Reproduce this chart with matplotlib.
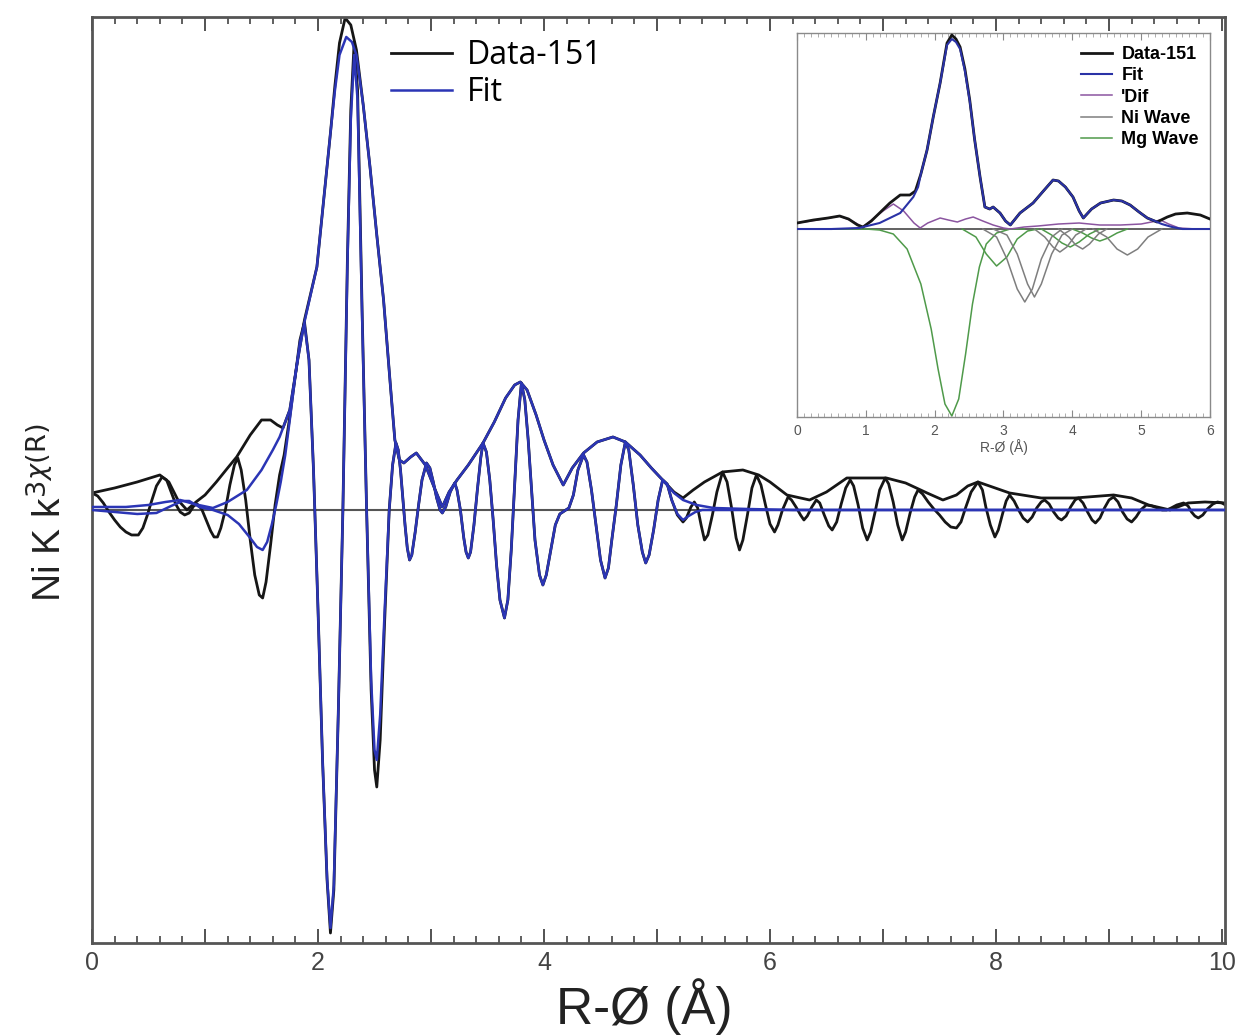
import matplotlib
matplotlib.use('Agg')
import matplotlib.pyplot as plt
from matplotlib.ticker import MultipleLocator, FuncFormatter

plt.rcParams['font.family'] = ['Liberation Sans', 'DejaVu Sans']

# ---- main panel (values are in picture units, zero = baseline) ----
r_data_re = [0.00, 0.05, 0.10, 0.15, 0.20, 0.25, 0.30, 0.35, 0.41, 0.45, 0.49, 0.53, 0.57, 0.62,
             0.66, 0.70, 0.74, 0.78, 0.82, 0.86, 0.90, 0.93, 0.97, 1.01, 1.05, 1.08, 1.11, 1.14,
             1.18, 1.22, 1.26, 1.29, 1.32, 1.36, 1.40, 1.44, 1.48, 1.51, 1.54, 1.58, 1.62, 1.66,
             1.70, 1.75, 1.80, 1.84, 1.88, 1.92, 1.96, 2.00, 2.04, 2.08, 2.11, 2.14, 2.18, 2.22,
             2.26, 2.29, 2.32, 2.35, 2.39, 2.43, 2.47, 2.50, 2.52, 2.55, 2.59, 2.63, 2.66, 2.69,
             2.71, 2.73, 2.75, 2.77, 2.79, 2.81, 2.83, 2.86, 2.89, 2.92, 2.96, 2.99, 3.02, 3.05,
             3.08, 3.10, 3.13, 3.17, 3.21, 3.23, 3.26, 3.29, 3.31, 3.33, 3.35, 3.38, 3.41, 3.44,
             3.46, 3.49, 3.52, 3.55, 3.58, 3.61, 3.65, 3.68, 3.71, 3.74, 3.77, 3.80, 3.83, 3.86,
             3.89, 3.92, 3.96, 3.99, 4.02, 4.06, 4.10, 4.14, 4.18, 4.22, 4.26, 4.30, 4.35, 4.38,
             4.42, 4.46, 4.50, 4.54, 4.57, 4.60, 4.64, 4.68, 4.72, 4.75, 4.79, 4.83, 4.87, 4.90,
             4.93, 4.97, 5.01, 5.05, 5.09, 5.13, 5.18, 5.23, 5.26, 5.30, 5.33, 5.36, 5.39, 5.42,
             5.45, 5.49, 5.53, 5.58, 5.62, 5.66, 5.70, 5.73, 5.76, 5.80, 5.84, 5.88, 5.92, 5.96,
             6.00, 6.04, 6.07, 6.11, 6.16, 6.19, 6.23, 6.27, 6.30, 6.33, 6.37, 6.41, 6.44, 6.48,
             6.52, 6.55, 6.59, 6.63, 6.67, 6.71, 6.74, 6.78, 6.82, 6.86, 6.89, 6.93, 6.97, 7.02,
             7.05, 7.09, 7.13, 7.17, 7.20, 7.24, 7.28, 7.31, 7.35, 7.40, 7.45, 7.50, 7.55, 7.60,
             7.65, 7.69, 7.73, 7.78, 7.84, 7.88, 7.91, 7.95, 7.99, 8.02, 8.06, 8.09, 8.12, 8.16,
             8.20, 8.24, 8.28, 8.32, 8.36, 8.40, 8.43, 8.47, 8.51, 8.55, 8.58, 8.62, 8.66, 8.70,
             8.73, 8.77, 8.81, 8.85, 8.88, 8.92, 8.96, 9.00, 9.04, 9.08, 9.12, 9.16, 9.20, 9.24,
             9.28, 9.33, 9.38, 9.43, 9.47, 9.51, 9.55, 9.60, 9.66, 9.70, 9.73, 9.76, 9.79, 9.83,
             9.87, 9.92, 9.96, 10.00, 10.03]
v_data_re = [17, 14, 7, -2, -10, -17, -22, -25, -25, -18, -5, 10, 24, 33,
             30, 18, 6, -2, -5, -3, 4, 6, 1, -10, -21, -27, -27, -18,
             0, 25, 45, 52, 40, 10, -30, -65, -85, -88, -72, -35, 5, 35,
             55, 93, 135, 170, 188, 150, 40, -100, -250, -370, -423, -380, -200, 0,
             250, 400, 468, 420, 200, 0, -180, -260, -277, -230, -110, 0, 45, 67,
             60, 40, 12, -15, -38, -50, -45, -22, 5, 30, 47, 42, 28, 12,
             0, -3, 3, 18, 27, 20, 0, -28, -42, -48, -42, -15, 20, 52,
             67, 58, 30, -10, -55, -90, -108, -90, -40, 25, 90, 127, 110, 70,
             20, -30, -65, -75, -65, -40, -15, -4, -1, 2, 15, 40, 55, 48,
             20, -15, -50, -68, -58, -30, 5, 45, 68, 60, 25, -15, -42, -53,
             -45, -20, 10, 30, 26, 10, -5, -12, -8, 3, 8, 2, -15, -30,
             -25, -5, 18, 38, 28, 2, -28, -40, -30, -5, 22, 35, 25, 5,
             -14, -22, -15, 0, 13, 10, 3, -5, -10, -6, 3, 10, 7, -5,
             -16, -20, -12, 6, 22, 30, 24, 5, -18, -30, -22, -2, 20, 32,
             26, 8, -15, -30, -22, -3, 13, 20, 16, 8, 1, -5, -12, -17,
             -18, -12, 2, 18, 28, 20, 3, -15, -27, -20, -3, 9, 15, 9,
             0, -8, -12, -7, 2, 8, 10, 6, -2, -8, -10, -6, 3, 10,
             12, 7, -2, -10, -13, -8, 2, 10, 13, 8, -2, -9, -12, -7,
             0, 5, 4, 2, 0, 0, 2, 5, 7, 4, -2, -6, -8, -5,
             1, 6, 8, 7, 5]

r_data_mag = [0.00, 0.20, 0.40, 0.60, 0.68, 0.76, 0.84, 0.92, 1.00, 1.10, 1.20, 1.28, 1.40, 1.50,
              1.58, 1.64, 1.69, 1.75, 1.82, 1.88, 1.99, 2.05, 2.11, 2.15, 2.19, 2.24, 2.29, 2.34,
              2.40, 2.46, 2.52, 2.58, 2.64, 2.68, 2.72, 2.76, 2.82, 2.87, 2.95, 3.03, 3.10, 3.16,
              3.23, 3.33, 3.46, 3.56, 3.66, 3.74, 3.79, 3.85, 3.93, 4.00, 4.08, 4.17, 4.25, 4.35,
              4.47, 4.61, 4.72, 4.85, 4.95, 5.05, 5.15, 5.23, 5.32, 5.42, 5.50, 5.58, 5.76, 5.90,
              6.00, 6.15, 6.35, 6.50, 6.68, 7.03, 7.20, 7.39, 7.53, 7.65, 7.75, 7.84, 8.12, 8.40,
              8.70, 9.04, 9.20, 9.35, 9.54, 9.70, 9.85, 10.03]
v_data_mag = [17, 22, 28, 35, 28, 10, 0, 8, 15, 28, 42, 53, 75, 90,
              90, 85, 82, 100, 150, 190, 243, 310, 377, 425, 467, 492, 485, 460,
              405, 343, 275, 210, 125, 70, 50, 47, 53, 57, 45, 22, 3, 18,
              30, 45, 67, 88, 112, 125, 128, 120, 95, 70, 45, 25, 42, 57,
              68, 73, 68, 55, 42, 30, 18, 12, 20, 28, 33, 38, 40, 35,
              28, 15, 10, 18, 32, 32, 27, 17, 10, 15, 24, 28, 17, 12,
              12, 15, 12, 5, 0, 7, 8, 7]

r_fit_re = [0.00, 0.20, 0.40, 0.57, 0.70, 0.80, 0.86, 0.95, 1.07, 1.20, 1.30, 1.40, 1.46, 1.51,
            1.55, 1.59, 1.63, 1.67, 1.71, 1.75, 1.80, 1.84, 1.88, 1.92, 1.96, 2.00, 2.04, 2.08,
            2.11, 2.14, 2.18, 2.22, 2.26, 2.29, 2.32, 2.35, 2.39, 2.43, 2.47, 2.50, 2.52, 2.55,
            2.59, 2.63, 2.66, 2.69, 2.71, 2.73, 2.75, 2.77, 2.79, 2.81, 2.83, 2.86, 2.89, 2.92,
            2.96, 2.99, 3.02, 3.05, 3.08, 3.10, 3.13, 3.17, 3.21, 3.23, 3.26, 3.29, 3.31, 3.33,
            3.35, 3.38, 3.41, 3.44, 3.46, 3.49, 3.52, 3.55, 3.58, 3.61, 3.65, 3.68, 3.71, 3.74,
            3.77, 3.80, 3.83, 3.86, 3.89, 3.92, 3.96, 3.99, 4.02, 4.06, 4.10, 4.14, 4.18, 4.22,
            4.26, 4.30, 4.35, 4.38, 4.42, 4.46, 4.50, 4.54, 4.57, 4.60, 4.64, 4.68, 4.72, 4.75,
            4.79, 4.83, 4.87, 4.90, 4.93, 4.97, 5.01, 5.05, 5.09, 5.13, 5.18, 5.23, 5.28, 5.34,
            5.40, 10.03]
v_fit_re = [0, -2, -4, -3, 4, 9, 9, 3, 0, -5, -14, -28, -37, -40,
            -32, -15, 5, 28, 55, 90, 135, 168, 186, 150, 40, -100, -250, -368,
            -418, -375, -200, 0, 245, 390, 455, 410, 195, 0, -170, -240, -250, -205,
            -100, 0, 45, 67, 60, 40, 12, -15, -38, -50, -45, -22, 5, 30,
            47, 42, 28, 12, 0, -3, 3, 18, 27, 20, 0, -28, -42, -48,
            -42, -15, 20, 52, 67, 58, 30, -10, -55, -90, -108, -90, -40, 25,
            90, 127, 110, 70, 20, -30, -65, -75, -65, -40, -15, -4, -1, 2,
            15, 40, 55, 48, 20, -15, -50, -68, -58, -30, 5, 45, 68, 60,
            25, -15, -42, -53, -45, -20, 10, 30, 26, 10, -4, -10, -6, -2,
            0, 0]

r_fit_mag = [0.00, 0.30, 0.50, 0.65, 0.78, 0.90, 1.07, 1.20, 1.37, 1.50, 1.60, 1.66, 1.75, 1.82,
             1.88, 1.99, 2.05, 2.11, 2.15, 2.19, 2.25, 2.30, 2.34, 2.40, 2.46, 2.52, 2.58, 2.64,
             2.68, 2.72, 2.76, 2.82, 2.87, 2.95, 3.03, 3.10, 3.16, 3.23, 3.33, 3.46, 3.56, 3.66,
             3.74, 3.79, 3.85, 3.93, 4.00, 4.08, 4.17, 4.25, 4.35, 4.47, 4.61, 4.72, 4.85, 4.95,
             5.05, 5.15, 5.23, 5.35, 5.50, 5.80, 6.20, 10.03]
v_fit_mag = [3, 3, 5, 8, 10, 6, 2, 8, 20, 40, 60, 73, 100, 150,
             188, 243, 310, 377, 420, 455, 473, 468, 455, 405, 343, 275, 210, 125,
             70, 50, 47, 53, 57, 45, 22, 3, 18, 30, 45, 67, 88, 112,
             125, 128, 120, 95, 70, 45, 25, 42, 57, 68, 73, 68, 55, 42,
             30, 17, 10, 5, 2, 1, 0, 0]

# ---- inset panel ----
r_in_data = [0.00, 0.24, 0.45, 0.62, 0.75, 0.88, 0.96, 1.08, 1.20, 1.35, 1.50, 1.64, 1.72, 1.80,
             1.89, 1.98, 2.08, 2.18, 2.25, 2.31, 2.37, 2.44, 2.51, 2.58, 2.66, 2.73, 2.80, 2.85,
             2.95, 3.03, 3.10, 3.17, 3.24, 3.43, 3.58, 3.72, 3.80, 3.90, 4.01, 4.10, 4.16, 4.28,
             4.41, 4.60, 4.72, 4.84, 4.97, 5.09, 5.23, 5.38, 5.50, 5.67, 5.86, 6.00]
v_in_data = [6, 9, 11, 13, 10, 4, 2, 8, 16, 26, 34, 34, 38, 55,
             79, 112, 146, 186, 194, 190, 182, 160, 129, 90, 52, 22, 20, 22,
             16, 8, 4, 10, 16, 26, 38, 49, 48, 42, 32, 18, 11, 20,
             26, 29, 28, 24, 17, 11, 7, 12, 15, 16, 14, 10]

r_in_fit = [0.00, 0.50, 0.90, 1.20, 1.50, 1.69, 1.76, 1.80, 1.89, 1.98, 2.08, 2.18, 2.25, 2.31,
            2.37, 2.44, 2.51, 2.58, 2.66, 2.73, 2.80, 2.85, 2.95, 3.03, 3.10, 3.17, 3.24, 3.43,
            3.58, 3.72, 3.80, 3.90, 4.01, 4.10, 4.16, 4.28, 4.41, 4.60, 4.72, 4.84, 4.97, 5.09,
            5.20, 5.30, 5.45, 5.60, 6.00]
v_in_fit = [0, 0, 1, 6, 16, 32, 42, 55, 79, 112, 146, 184, 190, 187,
            180, 158, 128, 90, 52, 22, 20, 22, 16, 8, 4, 10, 16, 26,
            38, 49, 48, 42, 32, 18, 11, 20, 26, 29, 28, 24, 17, 11,
            8, 5, 2, 0, 0]

r_in_dif = [0.00, 0.30, 0.62, 0.80, 0.96, 1.10, 1.25, 1.40, 1.55, 1.70, 1.79, 1.90, 2.08, 2.20,
            2.33, 2.45, 2.56, 2.70, 2.85, 3.00, 3.10, 3.30, 3.50, 3.80, 4.10, 4.40, 4.70, 5.00,
            5.15, 5.28, 5.40, 5.55, 5.80, 6.00]
v_in_dif = [6, 9, 13, 8, 2, 10, 18, 25, 18, 6, 1, 6, 11, 9,
            7, 10, 12, 8, 4, 1, 0, 2, 3, 5, 6, 4, 4, 5,
            7, 9, 5, 1, 0, 0]

ni_waves = [
    ([2.70, 2.90, 3.05, 3.20, 3.31, 3.42, 3.55, 3.70, 3.85],
     [0, -8, -30, -60, -73, -60, -30, -8, 0]),
    ([2.85, 3.05, 3.20, 3.35, 3.45, 3.55, 3.70, 3.85, 4.00],
     [0, -6, -25, -55, -68, -55, -25, -6, 0]),
    ([3.45, 3.60, 3.72, 3.82, 3.92, 4.05, 4.20],
     [0, -8, -18, -23, -18, -6, 0]),
    ([3.80, 3.95, 4.05, 4.15, 4.25, 4.38, 4.50],
     [0, -8, -16, -20, -15, -5, 0]),
    ([4.30, 4.50, 4.65, 4.80, 4.95, 5.10, 5.30],
     [0, -8, -20, -26, -20, -8, 0]),
]
mg_waves = [
    ([0.00, 1.00, 1.20, 1.40, 1.60, 1.80, 1.95, 2.05, 2.15, 2.25, 2.35, 2.45, 2.55, 2.65,
      2.75, 2.90, 3.10, 3.30],
     [0, 0, -1, -5, -20, -55, -100, -140, -175, -187, -170, -125, -75, -38,
      -15, -4, 0, 0]),
    ([2.40, 2.60, 2.75, 2.90, 3.05, 3.20, 3.35, 3.50],
     [0, -8, -25, -37, -28, -10, -2, 0]),
    ([3.55, 3.70, 3.85, 3.97, 4.10, 4.25, 4.40],
     [0, -6, -14, -18, -13, -5, 0]),
    ([4.00, 4.15, 4.28, 4.40, 4.52, 4.65, 4.80],
     [0, -4, -9, -12, -9, -4, 0]),
]

c_data = '#161616'
c_fit = '#2b35b5'

fig = plt.figure(figsize=(12.47, 10.35), dpi=100)
ax = fig.add_axes([0.0738, 0.0889, 0.9086, 0.8947])

ax.axhline(0, color='#555555', lw=1.5, zorder=1)
ax.plot(r_data_mag, v_data_mag, color=c_data, lw=2.0, label='Data-151', zorder=2)
ax.plot(r_data_re, v_data_re, color=c_data, lw=2.0, zorder=2)
ax.plot(r_fit_mag, v_fit_mag, color=c_fit, lw=1.8, label='Fit', zorder=3)
ax.plot(r_fit_re, v_fit_re, color=c_fit, lw=1.8, zorder=3)

ax.set_xlim(0, 10.027)
ax.set_ylim(-433, 493)
ax.set_yticks([])
ax.xaxis.set_major_locator(MultipleLocator(1))
ax.xaxis.set_minor_locator(MultipleLocator(0.2))
ax.xaxis.set_major_formatter(FuncFormatter(lambda v, p: '%d' % v if round(v) % 2 == 0 else ''))
ax.tick_params(axis='x', which='major', direction='in', length=10, width=1.3, colors='#444444',
               top=True, labelsize=18, pad=6)
ax.tick_params(axis='x', which='minor', direction='in', length=5, width=1.2, colors='#444444', top=True)
for s in ax.spines.values():
    s.set_color('#555555')
    s.set_linewidth(2)

ax.set_xlabel('R-Ø (Å)', fontsize=37, color='#222222')
ax.xaxis.set_label_coords(0.487, -0.038)
ax.set_ylabel(r'Ni K k$^{3}$$^{\chi(\mathrm{R})}$', fontsize=28, color='#222222')
ax.yaxis.set_label_coords(-0.02, 0.465)

ax.legend(loc='upper left', bbox_to_anchor=(0.253, 0.99), frameon=False,
          handlelength=1.9, handletextpad=0.45, labelspacing=0.12, borderaxespad=0,
          prop={'family': 'Open Sans', 'size': 23})

# ---- inset ----
axi = fig.add_axes([0.6391, 0.5971, 0.3312, 0.3710])
axi.axhline(0, color='#555555', lw=1.3, zorder=1)
for i, (rr, vv) in enumerate(mg_waves):
    axi.plot(rr, vv, color='#4f9a4a', lw=1.1, label='Mg Wave' if i == 0 else None, zorder=2)
for i, (rr, vv) in enumerate(ni_waves):
    axi.plot(rr, vv, color='#7e7e7e', lw=1.1, label='Ni Wave' if i == 0 else None, zorder=2)
axi.plot(r_in_dif, v_in_dif, color='#8b55a0', lw=1.1, label="'Dif", zorder=3)
axi.plot(r_in_data, v_in_data, color=c_data, lw=2.0, label='Data-151', zorder=4)
axi.plot(r_in_fit, v_in_fit, color='#2a32a6', lw=1.5, label='Fit', zorder=5)

axi.set_xlim(0, 6)
axi.set_ylim(-188, 196)
axi.set_yticks([])
axi.xaxis.set_major_locator(MultipleLocator(1))
axi.xaxis.set_minor_locator(MultipleLocator(0.1))
axi.tick_params(axis='x', which='major', direction='in', length=5, width=0.8, colors='#8a8a8a',
                top=True, labelsize=10, labelcolor='#555555', pad=5)
axi.tick_params(axis='x', which='minor', direction='in', length=3, width=0.6, colors='#a0a0a0', top=True)
for s in axi.spines.values():
    s.set_color('#8a8a8a')
    s.set_linewidth(1)
axi.set_xlabel('R-Ø (Å)', fontsize=10, color='#555555', labelpad=1)

h, l = axi.get_legend_handles_labels()
order = ['Data-151', 'Fit', "'Dif", 'Ni Wave', 'Mg Wave']
hh = [h[l.index(k)] for k in order]
axi.legend(hh, order, loc='upper right', bbox_to_anchor=(0.995, 0.99), frameon=False,
           prop={'family': 'Liberation Sans', 'weight': 'bold', 'size': 13},
           handlelength=1.75, handletextpad=0.5, labelspacing=0.24, borderaxespad=0.1)

fig.savefig('out.png', dpi=100)
